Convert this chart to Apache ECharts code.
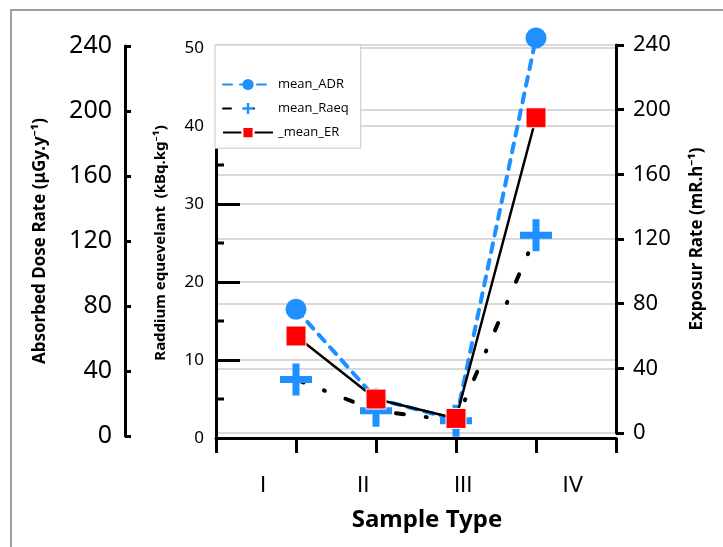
<!DOCTYPE html>
<html>
<head>
	<meta charset="utf-8" />
	<title></title>
	<script src="https://cdn.jsdelivr.net/npm/echarts@6/dist/echarts.min.js"></script>
	<style>
		body{
			padding: 0px;
			margin: 0px;
			background: #fff;
		}
	</style>
</head>
<body>
	<div id="main" style="width: 723px; height: 547px;"></div>
	<script type="text/javascript">
// sample types, where the points sit, and where the tick labels sit on the x axis
var categories = ['I', 'II', 'III', 'IV'];
var xPos = [1, 2, 3, 4];
var labelPos = [0.59, 1.84, 3.09, 4.46];
// short ticks on the inner (Raeq) axis
var minorTicks = [5, 15, 25, 35, 45];

// series values
var meanADR = [78, 23, 10, 245];     // uGy/y, left outer axis
var meanRaeq = [7.5, 3.5, 2.2, 26];  // kBq/kg, inner axis
var meanER = [60, 21, 9, 195];       // mR/h, right axis

function pairs(vals) {
	return vals.map(function(v, i) { return [xPos[i], v]; });
}

var plusPath = 'path://M12.5 0H19.5V12.5H32V19.5H19.5V32H12.5V19.5H0V12.5H12.5Z';
var blue = '#1e90ff';
var font = 'Noto Sans';

var mychart = echarts.init(document.getElementById('main'));

var hiddenX = function(idx) {
	return { type: 'value', gridIndex: idx, min: 0, max: 5, interval: 1, show: false };
};

mychart.setOption({
	animation: false,
	textStyle: { fontFamily: font },
	graphic: [{
		id: 'frame',
		type: 'rect',
		shape: { x: 11, y: 10, width: 730, height: 560 },
		style: { fill: 'none', stroke: '#7f7f7f', lineWidth: 1.5 },
		silent: true
	}],
	legend: {
		orient: 'vertical',
		left: 215,
		top: 45,
		z: 10,
		backgroundColor: '#fff',
		borderColor: '#c8c8c8',
		borderWidth: 1,
		padding: [33, 12, 9, 7],
		itemWidth: 50,
		itemHeight: 14,
		itemGap: 11,
		textStyle: { fontFamily: 'Open Sans', fontSize: 13, color: '#000' },
		data: ['mean_ADR', 'mean_Raeq', '_mean_ER']
	},
	grid: [
		{ left: 216, right: 107, top: 48, bottom: 109 },
		{ left: 216, right: 107, top: 46, bottom: 111 },
		{ left: 216, right: 107, top: 45, bottom: 114 }
	],
	xAxis: [{
		type: 'value',
		gridIndex: 0,
		min: 0,
		max: 5,
		interval: 1,
		name: 'Sample Type',
		nameLocation: 'middle',
		nameGap: 70,
		nameTextStyle: { fontFamily: font, fontSize: 24, fontWeight: 'bold', color: '#000', padding: [0, 0, 0, 22] },
		axisLine: { onZero: false, lineStyle: { color: '#000', width: 3 } },
		axisTick: { length: 15, lineStyle: { color: '#000', width: 3 }, customValues: [0, 1, 2, 3, 4, 5] },
		splitLine: { show: false },
		axisLabel: {
			customValues: labelPos,
			margin: 38,
			fontFamily: 'DejaVu Sans',
			fontSize: 21,
			color: '#000',
			formatter: function(v) {
				var i = labelPos.indexOf(v);
				return i >= 0 ? categories[i] : '';
			}
		}
	}, hiddenX(1), hiddenX(2)],
	yAxis: [{
		type: 'value',
		gridIndex: 0,
		position: 'left',
		min: 0,
		max: 50,
		interval: 10,
		name: 'Raddium equevelant  (kBq.kg\u207B\u00B9)',
		nameLocation: 'middle',
		nameRotate: 90,
		nameGap: 48,
		nameTextStyle: { fontSize: 15, fontWeight: 'bold', color: '#000' },
		axisLine: { show: true, onZero: false, lineStyle: { color: '#000', width: 3 } },
		axisTick: { show: true, inside: true, length: 24, lineStyle: { color: '#000', width: 3 } },
		axisLabel: { fontSize: 17, color: '#000', margin: 12 },
		splitLine: { show: true, lineStyle: { color: '#d9d9d9', width: 2 } }
	}, {
		type: 'value',
		gridIndex: 1,
		position: 'left',
		offset: 91,
		min: 0,
		max: 240,
		interval: 40,
		name: 'Absorbed Dose Rate (\u03BCGy.y\u207B\u00B9)',
		nameLocation: 'middle',
		nameRotate: 90,
		nameGap: 76,
		nameTextStyle: { fontSize: 17, fontWeight: 'bold', color: '#000' },
		axisLine: { show: true, onZero: false, lineStyle: { color: '#000', width: 3 } },
		axisTick: { show: true, inside: true, length: 6, lineStyle: { color: '#000', width: 3 } },
		axisLabel: { fontSize: 25, color: '#000', margin: 13 },
		splitLine: { show: false }
	}, {
		type: 'value',
		gridIndex: 2,
		position: 'right',
		min: 0,
		max: 240,
		interval: 40,
		name: 'Exposur Rate (mR.h\u207B\u00B9)',
		nameLocation: 'middle',
		nameRotate: 90,
		nameGap: 73,
		nameTextStyle: { fontSize: 17, fontWeight: 'bold', color: '#000' },
		axisLine: { show: true, onZero: false, lineStyle: { color: '#000', width: 3 } },
		axisTick: { show: true, length: 8, lineStyle: { color: '#000', width: 3 } },
		axisLabel: { fontSize: 22, color: '#000', margin: 17 },
		splitLine: { show: true, lineStyle: { color: '#d9d9d9', width: 2 } }
	}],
	series: [{
		name: 'mean_ADR',
		type: 'line',
		xAxisIndex: 1,
		yAxisIndex: 1,
		data: pairs(meanADR),
		clip: false,
		z: 2,
		symbol: 'circle',
		symbolSize: 21,
		itemStyle: { color: blue },
		lineStyle: { color: blue, width: 4, type: [9, 8], cap: 'round' }
	}, {
		name: 'mean_Raeq',
		type: 'line',
		xAxisIndex: 0,
		yAxisIndex: 0,
		data: pairs(meanRaeq),
		clip: false,
		z: 3,
		symbol: plusPath,
		symbolSize: 32,
		itemStyle: { color: blue },
		lineStyle: { color: '#000', width: 4, type: [8, 22, 1, 22], cap: 'round' }
	}, {
		name: '_mean_ER',
		type: 'line',
		xAxisIndex: 2,
		yAxisIndex: 2,
		data: pairs(meanER),
		clip: false,
		z: 4,
		symbol: 'rect',
		symbolSize: 20,
		itemStyle: { color: '#ff0000', borderColor: '#fff', borderWidth: 1 },
		lineStyle: { color: '#000', width: 2.5 }
	}]
});

// short ticks at the 5s of the inner axis, placed through the axis scale
var x0 = mychart.convertToPixel({ xAxisIndex: 0 }, 0);
mychart.setOption({
	graphic: minorTicks.map(function(v, i) {
		var y = mychart.convertToPixel({ yAxisIndex: 0 }, v);
		return {
			id: 'minor' + i,
			type: 'line',
			z: 1,
			silent: true,
			shape: { x1: x0, y1: y, x2: x0 + 8, y2: y },
			style: { stroke: '#000', lineWidth: 3 }
		};
	})
});
	</script>
</body>
</html>
